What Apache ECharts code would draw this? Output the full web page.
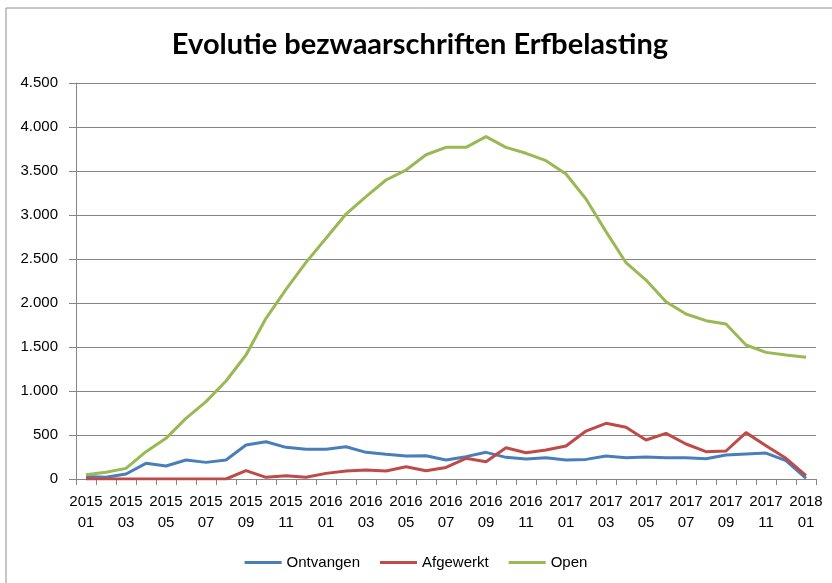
<!DOCTYPE html>
<html>
<head>
<meta charset="utf-8">
<script src="https://cdn.jsdelivr.net/npm/echarts@6/dist/echarts.min.js"></script>
<style>
html, body { margin: 0; padding: 0; background: #ffffff; }
#chart { width: 832px; height: 583px; }
</style>
</head>
<body>
<div id="chart"></div>
<script>
// maanden 2015-01 .. 2018-01
const months = [
  "2015\n01", "2015\n02", "2015\n03", "2015\n04", "2015\n05", "2015\n06", "2015\n07", "2015\n08", "2015\n09", "2015\n10", "2015\n11", "2015\n12",
  "2016\n01", "2016\n02", "2016\n03", "2016\n04", "2016\n05", "2016\n06", "2016\n07", "2016\n08", "2016\n09", "2016\n10", "2016\n11", "2016\n12",
  "2017\n01", "2017\n02", "2017\n03", "2017\n04", "2017\n05", "2017\n06", "2017\n07", "2017\n08", "2017\n09", "2017\n10", "2017\n11", "2017\n12",
  "2018\n01"
]
const ontvangen = [
  27, 20, 57, 178, 148, 216, 189, 216, 386, 424, 360, 337,
  337, 367, 303, 280, 261, 265, 216, 254, 303, 246, 227, 242,
  216, 223, 261, 242, 250, 242, 242, 231, 273, 284, 295, 208,
  8
]
const afgewerkt = [
  0, 0, 0, 0, 0, 0, 0, 0, 95, 19, 38, 19,
  64, 91, 102, 91, 140, 93, 131, 235, 197, 356, 299, 330,
  375, 545, 633, 587, 443, 519, 398, 311, 318, 527, 379, 235,
  38
]
const open = [
  49, 76, 121, 311, 462, 689, 879, 1114, 1409, 1826, 2155, 2462,
  2735, 3011, 3208, 3398, 3511, 3685, 3769, 3769, 3890, 3769, 3701, 3617,
  3466, 3182, 2811, 2458, 2261, 2015, 1875, 1799, 1761, 1523, 1439, 1409,
  1383
]
const yTicks = { min: 0, max: 4500, step: 500 }

let myCharts = echarts.init(document.getElementById("chart"))
let axisGray = "#868686"
let labelFont = "Liberation Sans"
let option = {
  color: ["#4A7EBB", "#BE4B48", "#98B954"],
  animation: false,
  graphic: [
    {
      type: "rect",
      shape: { x: 6, y: 8, width: 900, height: 700 },
      style: { fill: "none", stroke: "#8c8c8c", lineWidth: 1 },
      silent: true,
    },
  ],
  title: {
    text: "Evolutie bezwaarschriften Erfbelasting",
    left: 415,
    textAlign: "center",
    top: 25,
    textStyle: {
      fontFamily: "Lato",
      fontWeight: "bold",
      fontSize: 29,
      color: "#000000",
    },
  },
  legend: {
    bottom: 8,
    left: "center",
    icon: "rect",
    itemWidth: 37,
    itemHeight: 3,
    itemGap: 20,
    textStyle: { fontFamily: labelFont, fontSize: 15, color: "#000000" },
    data: ["Ontvangen", "Afgewerkt", "Open"],
  },
  grid: { left: 76, right: 16, top: 83, bottom: 104 },
  xAxis: {
    type: "category",
    data: months,
    boundaryGap: true,
    axisLine: { lineStyle: { color: axisGray, width: 1 } },
    axisTick: { show: true, interval: 0, length: 6, lineStyle: { color: axisGray } },
    axisLabel: {
      interval: 1,
      margin: 12,
      lineHeight: 21,
      fontFamily: labelFont,
      fontSize: 15,
      color: "#000000",
    },
    splitLine: { show: false },
  },
  yAxis: {
    type: "value",
    min: yTicks.min,
    max: yTicks.max,
    interval: yTicks.step,
    axisLine: { show: true, lineStyle: { color: axisGray, width: 1 } },
    axisTick: { show: true, length: 7, lineStyle: { color: axisGray } },
    axisLabel: {
      margin: 18,
      fontFamily: labelFont,
      fontSize: 15,
      color: "#000000",
      formatter: function (v) {
        return String(v).replace(/\B(?=(\d{3})+(?!\d))/g, ".")
      },
    },
    splitLine: { show: true, lineStyle: { color: axisGray, width: 1 } },
  },
  series: [
    { name: "Ontvangen", type: "line", data: ontvangen, showSymbol: false, lineStyle: { width: 3 } },
    { name: "Afgewerkt", type: "line", data: afgewerkt, showSymbol: false, lineStyle: { width: 3 } },
    { name: "Open", type: "line", data: open, showSymbol: false, lineStyle: { width: 3 } },
  ],
}
myCharts.setOption(option)
</script>
</body>
</html>
